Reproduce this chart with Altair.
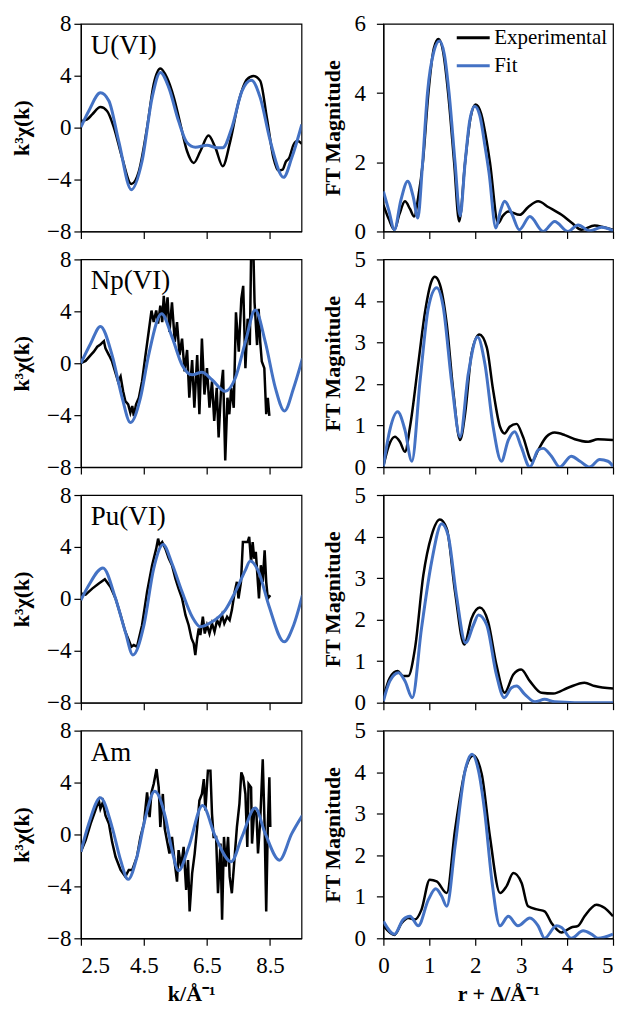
import altair as alt
import pandas as pd

FONT = "Liberation Serif"
BLUE = "#4472C4"

# ---------------- k-space data ----------------
u_exp_k = [2.5, 2.7, 2.86, 3.12, 3.33, 3.55, 3.81, 4.1, 4.34, 4.6, 4.81, 5.02, 5.23, 5.45, 5.66, 5.87, 6.08, 6.29, 6.55, 6.77, 7.0, 7.24, 7.51, 7.77, 7.98, 8.19, 8.4, 8.61, 8.77, 8.9, 9.0, 9.11, 9.25, 9.37, 9.51]
u_exp_y = [0.5, 0.63, 1.02, 1.58, 1.28, -0.01, -2.33, -4.34, -3.36, 0.0, 3.34, 4.55, 3.85, 2.31, 0.24, -1.82, -2.72, -1.82, -0.61, -1.56, -2.97, -1.04, 2.05, 3.72, 3.98, 3.6, 0.76, -2.33, -3.31, -3.24, -2.64, -2.33, -1.3, -1.04, -1.25]
u_fit_k = [2.5, 2.75, 3.12, 3.39, 3.7, 4.1, 4.44, 4.76, 5.02, 5.29, 5.6, 5.87, 6.13, 6.5, 6.82, 7.0, 7.29, 7.61, 7.91, 8.19, 8.51, 8.93, 9.19, 9.51]
u_fit_y = [0.04, 1.28, 2.69, 2.05, -1.04, -4.78, -2.59, 2.31, 4.24, 3.08, 0.5, -1.17, -1.51, -1.35, -1.56, -1.56, 0.0, 2.82, 3.65, 2.31, -1.04, -3.83, -2.33, 0.24]

np_exp_k = [2.5, 2.65, 2.81, 2.91, 3.02, 3.12, 3.23, 3.28, 3.39, 3.49, 3.6, 3.68, 3.76, 3.84, 3.91, 4.0, 4.07, 4.13, 4.18, 4.25, 4.34, 4.44, 4.55, 4.65, 4.74, 4.81, 4.89, 4.95, 5.02, 5.08, 5.13, 5.18, 5.25, 5.31, 5.39, 5.48, 5.55, 5.63, 5.71, 5.79, 5.87, 5.94, 6.03, 6.1, 6.19, 6.26, 6.34, 6.42, 6.5, 6.58, 6.66, 6.73, 6.81, 6.87, 6.95, 7.01, 7.08, 7.15, 7.21, 7.27, 7.35, 7.42, 7.51, 7.59, 7.65, 7.72, 7.79, 7.86, 7.91, 7.96, 8.01, 8.09, 8.14, 8.19, 8.24, 8.32, 8.38, 8.43, 8.48]
np_exp_y = [0.0, 0.18, 0.63, 0.89, 1.27, 1.45, 1.7, 1.14, 0.63, 0.13, -0.76, -1.4, -1.02, -2.16, -2.92, -3.17, -3.81, -3.3, -4.06, -3.17, -2.66, -1.4, 0.63, 2.41, 4.06, 3.17, 4.06, 3.05, 4.44, 3.17, 5.2, 3.43, 5.08, 2.41, 4.7, 1.65, 3.17, 0.63, 1.9, -0.63, 1.02, -2.66, 0.25, -3.43, 0.63, -3.93, 1.9, -2.41, -0.38, -3.43, -1.4, -4.44, -1.9, -5.71, -1.9, -0.51, -7.49, -2.66, -3.93, -1.9, -3.43, 3.93, 0.89, 4.95, 5.96, -0.38, 3.43, 1.4, 10.0, 10.0, 4.7, 1.4, 4.19, 1.65, 0.13, -0.38, -3.93, -2.66, -4.06]
np_fit_k = [2.5, 2.81, 3.12, 3.49, 3.81, 4.07, 4.39, 4.65, 5.06, 5.39, 5.71, 6.03, 6.34, 6.66, 7.08, 7.4, 7.72, 8.03, 8.35, 8.67, 8.96, 9.25, 9.53]
np_fit_y = [0.0, 1.52, 2.84, 0.63, -2.66, -4.57, -2.66, 0.63, 3.81, 2.03, -0.13, -0.89, -0.69, -1.27, -2.16, -1.14, 1.65, 4.11, 1.65, -1.9, -3.68, -1.9, 0.38]

pu_exp_k = [2.5, 2.65, 2.86, 3.07, 3.26, 3.44, 3.6, 3.76, 3.91, 4.02, 4.1, 4.18, 4.28, 4.44, 4.6, 4.76, 4.89, 4.95, 5.0, 5.08, 5.18, 5.29, 5.39, 5.5, 5.6, 5.71, 5.82, 5.92, 6.01, 6.08, 6.13, 6.19, 6.24, 6.29, 6.37, 6.43, 6.5, 6.58, 6.66, 6.74, 6.82, 6.9, 6.98, 7.05, 7.14, 7.22, 7.29, 7.38, 7.45, 7.5, 7.58, 7.64, 7.72, 7.79, 7.84, 7.9, 7.95, 8.0, 8.05, 8.1, 8.15, 8.21, 8.27, 8.33, 8.38, 8.43, 8.51]
pu_exp_y = [0.41, 0.33, 0.79, 1.18, 1.51, 0.92, 0.03, -1.26, -2.54, -3.18, -3.69, -3.56, -3.69, -2.03, 0.54, 2.59, 3.87, 4.64, 4.13, 4.38, 3.87, 3.1, 2.59, 1.56, 0.79, 0.03, -1.26, -2.03, -3.05, -3.44, -4.33, -3.05, -2.28, -2.79, -1.38, -2.67, -2.03, -2.67, -1.9, -2.54, -1.64, -2.03, -1.26, -1.9, -1.38, -1.64, -0.87, 0.54, 1.31, 0.03, 1.31, 4.38, 4.38, 4.38, 4.77, 2.85, 4.38, 3.1, 3.62, 1.82, 0.03, 2.59, 1.31, 3.74, 1.31, 0.03, 0.28]
pu_fit_k = [2.5, 2.75, 3.2, 3.6, 3.91, 4.15, 4.5, 4.81, 5.11, 5.39, 5.71, 6.03, 6.29, 6.66, 7.08, 7.4, 7.72, 7.87, 8.14, 8.46, 8.95, 9.25, 9.53]
pu_fit_y = [-0.1, 1.05, 2.38, 0.03, -2.54, -4.33, -2.03, 2.33, 4.18, 2.72, 0.54, -1.38, -2.15, -1.77, -0.87, 0.54, 2.21, 2.92, 2.08, -0.49, -3.31, -2.03, 0.28]

am_exp_k = [2.5, 2.65, 2.81, 2.96, 3.07, 3.12, 3.2, 3.28, 3.39, 3.49, 3.6, 3.76, 3.91, 4.02, 4.13, 4.28, 4.39, 4.5, 4.6, 4.68, 4.74, 4.81, 4.9, 4.97, 5.02, 5.1, 5.16, 5.23, 5.31, 5.39, 5.48, 5.55, 5.6, 5.68, 5.76, 5.84, 5.9, 5.95, 6.03, 6.11, 6.19, 6.26, 6.34, 6.4, 6.45, 6.53, 6.61, 6.66, 6.71, 6.79, 6.85, 6.93, 6.98, 7.04, 7.1, 7.17, 7.22, 7.29, 7.37, 7.45, 7.53, 7.59, 7.65, 7.72, 7.78, 7.82, 7.9, 7.93, 8.0, 8.07, 8.12, 8.19, 8.27, 8.33, 8.38, 8.43, 8.48, 8.51]
am_exp_y = [-1.34, -0.45, 0.83, 1.85, 2.62, 1.98, 2.49, 1.47, 0.83, -0.57, -1.72, -2.74, -3.25, -2.74, -2.74, -1.72, -0.19, 0.83, 3.25, 1.34, 3.25, 3.89, 5.04, 3.63, 0.57, 3.12, 0.45, -0.45, -1.47, -0.19, -2.23, -3.64, -1.21, -2.49, -0.96, -4.27, -1.98, -5.93, -3.0, -1.47, 0.57, 2.62, 3.12, 4.27, 1.85, 4.91, 4.91, 1.59, -0.19, -0.19, -4.53, -0.7, -6.57, -0.19, -2.49, -0.19, -3.25, -4.53, -1.98, 0.57, 2.36, 4.78, 4.4, 3.12, -0.96, 3.89, 3.63, -0.7, 1.85, 1.59, -1.47, 1.08, 5.8, 0.57, -5.93, 0.57, 4.4, 0.57]
am_fit_k = [2.5, 2.75, 3.12, 3.49, 3.76, 4.0, 4.28, 4.55, 4.84, 5.18, 5.39, 5.6, 5.92, 6.36, 6.77, 7.27, 7.61, 8.03, 8.35, 8.8, 9.19, 9.53]
am_fit_y = [-1.34, 0.83, 2.82, 0.57, -1.98, -3.46, -1.72, 1.34, 3.33, 1.34, -1.21, -2.79, -0.96, 2.23, -0.19, -2.1, -0.19, 2.03, 0.06, -1.98, 0.06, 1.47]

# ---------------- R-space data ----------------
u_ft_exp_r = [0, 0.12, 0.24, 0.35, 0.47, 0.58, 0.67, 0.76, 0.86, 0.98, 1.1, 1.2, 1.3, 1.41, 1.54, 1.65, 1.78, 1.9, 2.01, 2.13, 2.25, 2.32, 2.5, 2.6, 2.72, 2.97, 3.15, 3.37, 3.6, 3.88, 4.1, 4.31, 4.6, 4.8, 5.0]
u_ft_exp_m = [0.77, 0.35, 0.05, 0.5, 0.87, 0.65, 0.43, 1.0, 2.0, 4.0, 5.3, 5.56, 5.2, 4.0, 2.0, 0.29, 2.0, 3.3, 3.67, 3.4, 2.6, 2.0, 0.24, 0.45, 0.58, 0.48, 0.7, 0.87, 0.7, 0.48, 0.25, 0.05, 0.17, 0.12, 0.05]
u_ft_fit_r = [0, 0.12, 0.24, 0.38, 0.53, 0.65, 0.75, 0.85, 0.96, 1.1, 1.22, 1.33, 1.43, 1.56, 1.67, 1.78, 1.88, 1.99, 2.1, 2.22, 2.3, 2.45, 2.55, 2.64, 2.8, 2.96, 3.19, 3.48, 3.73, 4.02, 4.24, 4.49, 4.75, 5.0]
u_ft_fit_m = [1.16, 0.6, 0.05, 0.9, 1.45, 1.0, 0.39, 1.9, 4.0, 5.2, 5.5, 5.1, 4.0, 2.0, 0.45, 2.0, 3.2, 3.62, 3.35, 2.4, 1.7, 0.1, 0.6, 0.87, 0.5, 0.05, 0.43, 0.0, 0.29, 0.0, 0.19, 0.02, 0.12, 0.02]

np_ft_exp_r = [0, 0.11, 0.25, 0.36, 0.47, 0.58, 0.76, 0.91, 1.05, 1.12, 1.23, 1.38, 1.52, 1.67, 1.78, 1.92, 2.09, 2.25, 2.39, 2.54, 2.64, 2.75, 2.9, 3.04, 3.24, 3.37, 3.55, 3.73, 3.95, 4.17, 4.46, 4.67, 5.0]
np_ft_exp_m = [0.02, 0.49, 0.73, 0.61, 0.37, 0.97, 2.49, 3.76, 4.48, 4.58, 4.4, 3.44, 1.85, 0.65, 1.29, 2.73, 3.19, 2.89, 1.85, 0.97, 0.81, 0.97, 1.04, 0.73, 0.14, 0.41, 0.73, 0.83, 0.77, 0.67, 0.61, 0.67, 0.65]
np_ft_fit_r = [0, 0.14, 0.31, 0.47, 0.62, 0.8, 0.98, 1.16, 1.3, 1.49, 1.67, 1.85, 2.05, 2.21, 2.39, 2.57, 2.72, 2.86, 3.0, 3.19, 3.37, 3.48, 3.66, 3.84, 4.09, 4.28, 4.49, 4.71, 4.89, 5.0]
np_ft_fit_m = [0.02, 0.89, 1.33, 0.89, 0.14, 2.09, 3.84, 4.32, 3.88, 2.01, 0.73, 2.25, 3.13, 2.49, 0.97, 0.14, 0.65, 0.85, 0.49, 0.0, 0.41, 0.45, 0.26, 0.0, 0.26, 0.14, 0.0, 0.18, 0.14, 0.02]

pu_ft_exp_r = [0, 0.14, 0.31, 0.43, 0.54, 0.69, 0.87, 1.05, 1.23, 1.38, 1.56, 1.76, 1.92, 2.1, 2.28, 2.46, 2.64, 2.83, 3.0, 3.19, 3.44, 3.7, 4.02, 4.38, 4.6, 5.0]
pu_ft_exp_m = [0.12, 0.6, 0.76, 0.64, 0.64, 1.32, 3.07, 4.03, 4.41, 4.19, 2.67, 1.4, 2.03, 2.29, 1.95, 0.92, 0.24, 0.68, 0.8, 0.52, 0.24, 0.22, 0.36, 0.48, 0.4, 0.34]
pu_ft_fit_r = [0, 0.14, 0.33, 0.47, 0.63, 0.83, 1.05, 1.27, 1.41, 1.59, 1.79, 1.96, 2.07, 2.25, 2.46, 2.63, 2.79, 2.9, 3.08, 3.3, 3.51, 3.73, 4.17, 5.0]
pu_ft_fit_m = [0.04, 0.52, 0.72, 0.52, 0.12, 1.79, 3.39, 4.31, 4.03, 2.59, 1.44, 1.87, 2.11, 1.87, 0.68, 0.12, 0.36, 0.4, 0.2, 0.02, 0.08, 0.02, 0.0, 0.0]

am_ft_exp_r = [0, 0.24, 0.4, 0.54, 0.69, 0.83, 1.01, 1.16, 1.38, 1.56, 1.78, 1.96, 2.14, 2.32, 2.54, 2.68, 2.83, 3.01, 3.15, 3.37, 3.51, 3.66, 3.88, 4.09, 4.24, 4.38, 4.64, 4.82, 5.0]
am_ft_exp_m = [0.3, 0.08, 0.37, 0.49, 0.45, 0.69, 1.41, 1.37, 1.09, 2.61, 4.04, 4.4, 3.96, 2.45, 1.09, 1.25, 1.57, 1.33, 0.77, 0.69, 0.65, 0.37, 0.14, 0.26, 0.3, 0.53, 0.81, 0.73, 0.53]
am_ft_fit_r = [0, 0.24, 0.43, 0.58, 0.76, 0.98, 1.14, 1.27, 1.38, 1.56, 1.78, 1.93, 2.07, 2.21, 2.36, 2.54, 2.72, 2.93, 3.19, 3.37, 3.51, 3.77, 3.88, 4.09, 4.35, 4.53, 4.67, 5.0]
am_ft_fit_m = [0.41, 0.1, 0.45, 0.53, 0.3, 0.93, 1.19, 1.01, 0.77, 2.21, 4.04, 4.43, 4.04, 3.01, 1.41, 0.3, 0.53, 0.3, 0.49, 0.3, 0.0, 0.3, 0.26, 0.0, 0.18, 0.1, 0.0, 0.1]

labels = ["U(VI)", "Np(VI)", "Pu(VI)", "Am"]
k_sets = [(u_exp_k, u_exp_y, u_fit_k, u_fit_y), (np_exp_k, np_exp_y, np_fit_k, np_fit_y),
          (pu_exp_k, pu_exp_y, pu_fit_k, pu_fit_y), (am_exp_k, am_exp_y, am_fit_k, am_fit_y)]
r_sets = [(u_ft_exp_r, u_ft_exp_m, u_ft_fit_r, u_ft_fit_m), (np_ft_exp_r, np_ft_exp_m, np_ft_fit_r, np_ft_fit_m),
          (pu_ft_exp_r, pu_ft_exp_m, pu_ft_fit_r, pu_ft_fit_m), (am_ft_exp_r, am_ft_exp_m, am_ft_fit_r, am_ft_fit_m)]
exp_smooth = [True, False, False, False]
ft_ymax = [6, 5, 5, 5]
k_ticks = [2.5, 4.5, 6.5, 8.5]
k_yticks = [-8, -4, 0, 4, 8]
r_ticks = [0, 1, 2, 3, 4, 5]

LW, RW, H = 221, 230, 208


def left_panel(i):
    ek, ey, fk, fy = k_sets[i]
    bottom = i == 3
    de = pd.DataFrame({"k": ek, "v": ey})
    df = pd.DataFrame({"k": fk, "v": fy})
    xax = alt.Axis(values=k_ticks, format=".1f", labels=bottom, labelPadding=9,
                   title="k/Å⁻¹" if bottom else None, titlePadding=6)
    x = alt.X("k:Q", scale=alt.Scale(domain=[2.5, 9.5], nice=False, zero=False), axis=xax)
    y = alt.Y("v:Q", scale=alt.Scale(domain=[-8, 8], nice=False),
              axis=alt.Axis(values=k_yticks, title="k³χ(k)", labelPadding=3, titlePadding=13))
    exp = alt.Chart(de).mark_line(color="black", strokeWidth=2.5, clip=True,
                                  interpolate="monotone" if exp_smooth[i] else "linear").encode(x=x, y=y)
    fit = alt.Chart(df).mark_line(color=BLUE, strokeWidth=3, clip=True,
                                  interpolate="monotone").encode(x=x, y=y)
    lab = alt.Chart(pd.DataFrame({"t": [labels[i]]})).mark_text(
        align="left", baseline="middle", font=FONT, fontSize=27, color="black"
    ).encode(text="t:N", x=alt.value(10), y=alt.value(22))
    return alt.layer(exp, fit, lab).properties(width=LW, height=H)


def right_panel(i):
    er, em, fr, fm = r_sets[i]
    bottom = i == 3
    de = pd.DataFrame({"r": er, "m": em, "s": "Experimental"})
    df = pd.DataFrame({"r": fr, "m": fm, "s": "Fit"})
    xax = alt.Axis(values=r_ticks, labels=bottom, labelPadding=9,
                   labelAlign={"condition": {"test": "datum.value >= 5", "value": "right"}, "value": "center"},
                   title="r + Δ/Å⁻¹" if bottom else None, titlePadding=6)
    x = alt.X("r:Q", scale=alt.Scale(domain=[0, 5], nice=False), axis=xax)
    step = 2 if ft_ymax[i] == 6 else 1
    y = alt.Y("m:Q", scale=alt.Scale(domain=[0, ft_ymax[i]], nice=False),
              axis=alt.Axis(values=list(range(0, ft_ymax[i] + 1, step)), title="FT Magnitude",
                            labelPadding=11, titlePadding=9))
    if i == 0:
        col = alt.Color("s:N", scale=alt.Scale(domain=["Experimental", "Fit"], range=["black", BLUE]),
                        legend=alt.Legend(title=None, orient="none", legendX=375, legendY=-4,
                                          symbolType="stroke", symbolSize=1089, symbolStrokeWidth=3,
                                          labelFont=FONT, labelFontSize=21, labelColor="black",
                                          rowPadding=0, labelOffset=3, padding=0))
        exp = alt.Chart(de).mark_line(strokeWidth=2.5, interpolate="monotone", clip=True).encode(x=x, y=y, color=col)
        fit = alt.Chart(df).mark_line(strokeWidth=3, interpolate="monotone", clip=True).encode(x=x, y=y, color=col)
    else:
        exp = alt.Chart(de).mark_line(color="black", strokeWidth=2.5, interpolate="monotone", clip=True).encode(x=x, y=y)
        fit = alt.Chart(df).mark_line(color=BLUE, strokeWidth=3, interpolate="monotone", clip=True).encode(x=x, y=y)
    return alt.layer(exp, fit).properties(width=RW, height=H)


panels = []
for i in range(4):
    panels.append(left_panel(i))
    panels.append(right_panel(i))

chart = alt.ConcatChart(concat=panels, columns=2, spacing={"row": 28, "column": 82}, bounds="flush").properties(
    padding={"left": 1, "top": 3, "right": 0, "bottom": 0}
).configure(font=FONT).configure_view(
    stroke="black", strokeWidth=1.2
).configure_axis(
    grid=False, domainColor="black", domainWidth=1.2, tickColor="black", tickSize=7, tickWidth=1.2,
    labelFont=FONT, labelFontSize=23, labelColor="black",
    titleFont=FONT, titleFontSize=22, titleFontWeight="bold", titleColor="black"
)

chart.save("out.html", embed_options={"renderer": "svg", "actions": False})
